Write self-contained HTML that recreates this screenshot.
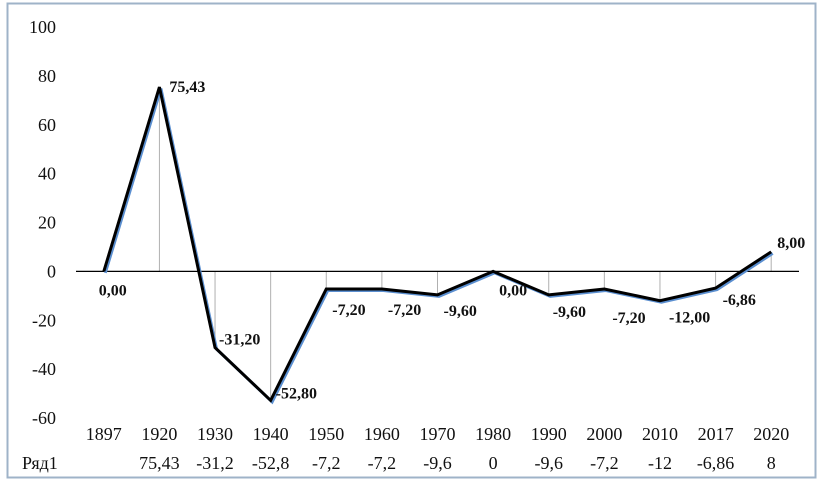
<!DOCTYPE html>
<html><head><meta charset="utf-8"><style>
body{margin:0;background:#fff}
svg{display:block;font-family:"Liberation Serif",serif}
</style></head><body>
<svg width="820" height="489" id="c">
<rect x="7.5" y="3.5" width="808" height="474" fill="#fff" stroke="#9fb3c8" stroke-width="2"/>
</svg>
<script>
const categories=["1897","1920","1930","1940","1950","1960","1970","1980","1990","2000","2010","2017","2020"];
const values=[0,75.43,-31.2,-52.8,-7.2,-7.2,-9.6,0,-9.6,-7.2,-12,-6.86,8];
const pointLabels=["0,00","75,43","-31,20","-52,80","-7,20","-7,20","-9,60","0,00","-9,60","-7,20","-12,00","-6,86","8,00"];
const tableLabels=["","75,43","-31,2","-52,8","-7,2","-7,2","-9,6","0","-9,6","-7,2","-12","-6,86","8"];
const yTicks=[100,80,60,40,20,0,-20,-40,-60];
const labelDx=[-5,10,4,5,6,6,6,6,4,8,9,7,6];
const labelDy=[24,5,-3,-2,26,26,21,24,22,34,22,17,-4];
const svg=document.getElementById('c');const NS='http://www.w3.org/2000/svg';
const L=76,R=799,T=27,B=418;
const bw=(R-L)/categories.length;
const x=i=>L+bw*(i+0.5);
const y=v=>T+(100-v)/160*(B-T);
function mk(t,a,txt){const e=document.createElementNS(NS,t);for(const k in a)e.setAttribute(k,a[k]);if(txt!==undefined)e.textContent=txt;svg.appendChild(e);return e;}
yTicks.forEach(v=>{const e=mk('text',{x:56,y:y(v)+6,'text-anchor':'end','font-size':18,fill:'#111'},String(v));

});
values.forEach((v,i)=>{const e=mk('line',{x1:x(i),x2:x(i),y1:y(0),y2:y(v),stroke:'#b0b0b0','stroke-width':1});

});
const z=mk('line',{x1:L,x2:R,y1:y(0),y2:y(0),stroke:'#000','stroke-width':1.2});


const pts=values.map((v,i)=>x(i)+','+y(v)).join(' ');
const sh=mk('polyline',{points:values.map((v,i)=>(x(i)+1.5)+','+(y(v)+1.5)).join(' '),fill:'none',stroke:'#5b8fd0','stroke-width':3});


const pl=mk('polyline',{points:pts,fill:'none',stroke:'#000','stroke-width':3,'stroke-linejoin':'miter'});


values.forEach((v,i)=>{
const e=mk('text',{x:x(i)+labelDx[i],y:y(v)+labelDy[i],'font-size':16,'font-weight':'bold',fill:'#111'},pointLabels[i]);

});
categories.forEach((c,i)=>{const e=mk('text',{x:x(i),y:440,'text-anchor':'middle','font-size':18,fill:'#111'},c);


const t=mk('text',{x:x(i),y:469,'text-anchor':'middle','font-size':18,fill:'#111'},tableLabels[i]);

});
const s=mk('text',{x:22,y:469,'font-size':18,fill:'#111'},'Ряд1');


</script>
</body></html>
